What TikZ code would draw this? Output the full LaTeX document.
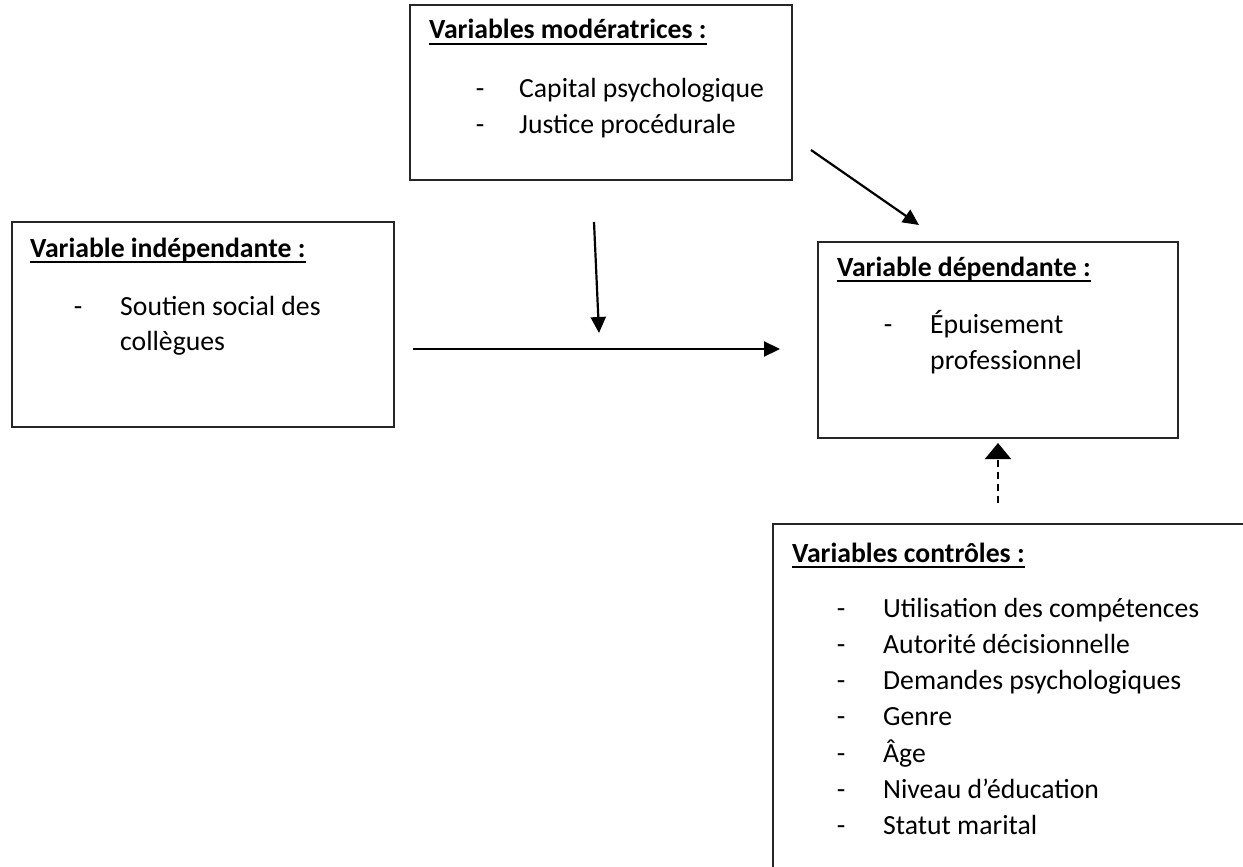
\documentclass[tikz,border=0pt]{standalone}
\usepackage{fontspec}
\setmainfont{Carlito}
\usetikzlibrary{arrows.meta}
\begin{document}
\begin{tikzpicture}[x=1pt,y=-1pt,
  box/.style={draw=black!85,line width=1.3pt},
  txt/.style={anchor=base west,inner sep=0pt,font=\fontsize{27.7}{34}\selectfont},
  dashmark/.style={anchor=base,inner sep=0pt,font=\fontsize{27.7}{34}\selectfont},
  head/.style={txt,font=\fontsize{27.7}{34}\selectfont\bfseries},
  uline/.style={line width=2pt},
  arr/.style={line width=2.2pt,-{Triangle[length=16pt,width=15pt]}},
  darr/.style={line width=1.6pt,dash pattern=on 7pt off 5pt,-{Triangle[length=16pt,width=26pt]}}]
\useasboundingbox (0,0) rectangle (1243,867);
\clip (0,0) rectangle (1243,867);
% boxes
\draw[box] (410,5) rectangle (792,180);
\draw[box] (12,222) rectangle (394,427);
\draw[box] (818,242) rectangle (1178,438);
\draw[box] (773,880) -- (773,524) -- (1260,524);
% moderatrices
\node[head] (mt) at (429,39) {Variables modératrices :};
\node[dashmark] (md1) at (480,97) {-};
\node[txt] (m1) at (519,97) {Capital psychologique};
\node[dashmark] (md2) at (480,133) {-};
\node[txt] (m2) at (519,133) {Justice procédurale};
% independante
\node[head] (it) at (30,257) {Variable indépendante :};
\node[dashmark] (id1) at (78,315) {-};
\node[txt] (i1) at (120,315) {Soutien social des};
\node[txt] (i2) at (120,350) {collègues};
% dependante
\node[head] (dt) at (837,276) {Variable dépendante :};
\node[dashmark] (dd1) at (888,333) {-};
\node[txt] (d1) at (930,333) {Épuisement};
\node[txt] (d2) at (930,369) {professionnel};
% controles
\node[head] (ct) at (792,562) {Variables contrôles :};
\foreach \t [count=\i] in {Utilisation des compétences,Autorité décisionnelle,Demandes psychologiques,Genre,Âge,Niveau d’éducation,Statut marital}{
  \node[dashmark] (cd\i) at (841,{617+(\i-1)*36.3}) {-};
  \node[txt] (c\i) at (883,{617+(\i-1)*36.3}) {\t};
}
% underlines
\foreach \n in {mt,it,dt,ct}{
  \draw[uline] ([yshift=-5pt]\n.base west) -- ([yshift=-5pt]\n.base east);
}
% connectors
\coordinate (a1s) at (811,150);
\coordinate (a1e) at (919,225);
\coordinate (a2s) at (594,222);
\coordinate (a2e) at (599,333);
\coordinate (a3s) at (413,349);
\coordinate (a3e) at (780,349);
\coordinate (a4s) at (998,503);
\coordinate (a4e) at (998,443);
\draw[arr] (a1s) -- (a1e);
\draw[arr] (a2s) -- (a2e);
\draw[arr] (a3s) -- (a3e);
\draw[darr] (a4s) -- (a4e);
\end{tikzpicture}
\end{document}
